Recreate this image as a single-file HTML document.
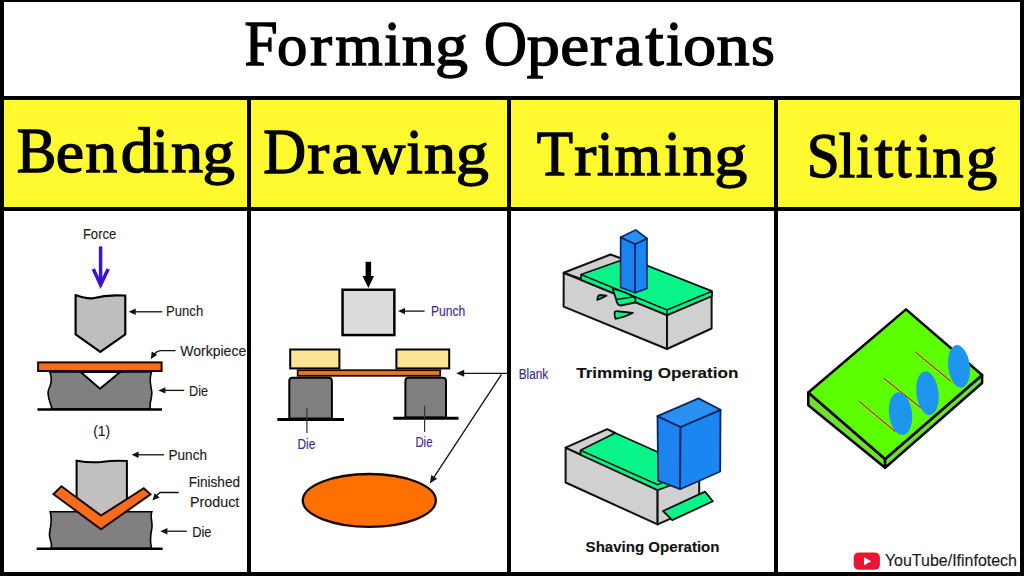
<!DOCTYPE html>
<html><head><meta charset="utf-8">
<style>
html,body{margin:0;padding:0;background:#fff;width:1024px;height:576px;overflow:hidden}
svg{display:block}
.ser{font-family:"Liberation Serif",serif}
.sans{font-family:"Liberation Sans",sans-serif}
</style></head>
<body>
<svg width="1024" height="576" viewBox="0 0 1024 576">
<rect x="0" y="0" width="1024" height="576" fill="#000"/>
<rect x="4" y="2" width="1016" height="94" fill="#fff"/>
<rect x="4" y="100" width="243" height="107" fill="#FFFA30"/>
<rect x="4" y="211" width="243" height="361" fill="#fff"/>
<rect x="251" y="100" width="256" height="107" fill="#FFFA30"/>
<rect x="251" y="211" width="256" height="361" fill="#fff"/>
<rect x="511" y="100" width="263" height="107" fill="#FFFA30"/>
<rect x="511" y="211" width="263" height="361" fill="#fff"/>
<rect x="778" y="100" width="242" height="107" fill="#FFFA30"/>
<rect x="778" y="211" width="242" height="361" fill="#fff"/>
<text class="ser" transform="translate(244.38,64.5) scale(0.950,1)" font-size="62.6" fill="#000" stroke="#000" stroke-width="1.4">F</text>
<text class="ser" transform="translate(277.08,64.5) scale(0.972,0.94)" font-size="62.6" fill="#000" stroke="#000" stroke-width="1.4">o</text>
<text class="ser" transform="translate(309.88,64.5) scale(1.060,0.94)" font-size="62.6" fill="#000" stroke="#000" stroke-width="1.4">r</text>
<text class="ser" transform="translate(335.22,64.5) scale(0.974,0.94)" font-size="62.6" fill="#000" stroke="#000" stroke-width="1.4">m</text>
<text class="ser" transform="translate(384.18,64.5) scale(0.950,1)" font-size="62.6" fill="#000" stroke="#000" stroke-width="1.4">i</text>
<text class="ser" transform="translate(401.75,64.5) scale(1.060,0.94)" font-size="62.6" fill="#000" stroke="#000" stroke-width="1.4">n</text>
<text class="ser" transform="translate(434.96,64.5) scale(1.054,0.94)" font-size="62.6" fill="#000" stroke="#000" stroke-width="1.4">g</text>
<text class="ser" transform="translate(483.98,64.5) scale(0.950,1)" font-size="62.6" fill="#000" stroke="#000" stroke-width="1.4">O</text>
<text class="ser" transform="translate(526.77,64.5) scale(1.060,0.94)" font-size="62.6" fill="#000" stroke="#000" stroke-width="1.4">p</text>
<text class="ser" transform="translate(560.16,64.5) scale(1.040,0.94)" font-size="62.6" fill="#000" stroke="#000" stroke-width="1.4">e</text>
<text class="ser" transform="translate(590.08,64.5) scale(1.060,0.94)" font-size="62.6" fill="#000" stroke="#000" stroke-width="1.4">r</text>
<text class="ser" transform="translate(614.58,64.5) scale(1.011,0.94)" font-size="62.6" fill="#000" stroke="#000" stroke-width="1.4">a</text>
<text class="ser" transform="translate(645.46,64.5) scale(1.048,1)" font-size="62.6" fill="#000" stroke="#000" stroke-width="1.4">t</text>
<text class="ser" transform="translate(665.93,64.5) scale(0.950,1)" font-size="62.6" fill="#000" stroke="#000" stroke-width="1.4">i</text>
<text class="ser" transform="translate(683.06,64.5) scale(1.060,0.94)" font-size="62.6" fill="#000" stroke="#000" stroke-width="1.4">o</text>
<text class="ser" transform="translate(716.45,64.5) scale(1.060,0.94)" font-size="62.6" fill="#000" stroke="#000" stroke-width="1.4">n</text>
<text class="ser" transform="translate(751.09,64.5) scale(0.978,0.94)" font-size="62.6" fill="#000" stroke="#000" stroke-width="1.4">s</text>
<text class="ser" transform="translate(16.79,171.5) scale(0.950,1)" font-size="62.5" fill="#000" stroke="#000" stroke-width="1.4">B</text>
<text class="ser" transform="translate(55.71,171.5) scale(1.020,0.94)" font-size="62.5" fill="#000" stroke="#000" stroke-width="1.4">e</text>
<text class="ser" transform="translate(85.33,171.5) scale(1.025,0.94)" font-size="62.5" fill="#000" stroke="#000" stroke-width="1.4">n</text>
<text class="ser" transform="translate(120.74,171.5) scale(1.060,1)" font-size="62.5" fill="#000" stroke="#000" stroke-width="1.4">d</text>
<text class="ser" transform="translate(152.29,171.5) scale(0.950,1)" font-size="62.5" fill="#000" stroke="#000" stroke-width="1.4">i</text>
<text class="ser" transform="translate(171.03,171.5) scale(1.025,0.94)" font-size="62.5" fill="#000" stroke="#000" stroke-width="1.4">n</text>
<text class="ser" transform="translate(202.51,171.5) scale(1.037,0.94)" font-size="62.5" fill="#000" stroke="#000" stroke-width="1.4">g</text>
<text class="ser" transform="translate(263.24,172.5) scale(0.950,1)" font-size="62.5" fill="#000" stroke="#000" stroke-width="1.4">D</text>
<text class="ser" transform="translate(307.25,172.5) scale(1.060,0.94)" font-size="62.5" fill="#000" stroke="#000" stroke-width="1.4">r</text>
<text class="ser" transform="translate(331.54,172.5) scale(1.060,0.94)" font-size="62.5" fill="#000" stroke="#000" stroke-width="1.4">a</text>
<text class="ser" transform="translate(362.41,172.5) scale(0.950,0.94)" font-size="62.5" fill="#000" stroke="#000" stroke-width="1.4">w</text>
<text class="ser" transform="translate(406.19,172.5) scale(0.950,1)" font-size="62.5" fill="#000" stroke="#000" stroke-width="1.4">i</text>
<text class="ser" transform="translate(424.03,172.5) scale(1.025,0.94)" font-size="62.5" fill="#000" stroke="#000" stroke-width="1.4">n</text>
<text class="ser" transform="translate(455.84,172.5) scale(1.060,0.94)" font-size="62.5" fill="#000" stroke="#000" stroke-width="1.4">g</text>
<text class="ser" transform="translate(536.72,175) scale(0.950,1)" font-size="62.5" fill="#000" stroke="#000" stroke-width="1.4">T</text>
<text class="ser" transform="translate(574.25,175) scale(1.060,0.94)" font-size="62.5" fill="#000" stroke="#000" stroke-width="1.4">r</text>
<text class="ser" transform="translate(597.04,175) scale(0.950,1)" font-size="62.5" fill="#000" stroke="#000" stroke-width="1.4">i</text>
<text class="ser" transform="translate(614.55,175) scale(0.954,0.94)" font-size="62.5" fill="#000" stroke="#000" stroke-width="1.4">m</text>
<text class="ser" transform="translate(664.19,175) scale(0.950,1)" font-size="62.5" fill="#000" stroke="#000" stroke-width="1.4">i</text>
<text class="ser" transform="translate(682.43,175) scale(1.025,0.94)" font-size="62.5" fill="#000" stroke="#000" stroke-width="1.4">n</text>
<text class="ser" transform="translate(714.14,175) scale(1.060,0.94)" font-size="62.5" fill="#000" stroke="#000" stroke-width="1.4">g</text>
<text class="ser" transform="translate(806.79,177) scale(0.950,1)" font-size="62.5" fill="#000" stroke="#000" stroke-width="1.4">S</text>
<text class="ser" transform="translate(838.65,177) scale(0.950,1)" font-size="62.5" fill="#000" stroke="#000" stroke-width="1.4">l</text>
<text class="ser" transform="translate(856.09,177) scale(0.950,1)" font-size="62.5" fill="#000" stroke="#000" stroke-width="1.4">i</text>
<text class="ser" transform="translate(874.47,177) scale(1.060,1)" font-size="62.5" fill="#000" stroke="#000" stroke-width="1.4">t</text>
<text class="ser" transform="translate(895.09,177) scale(0.950,1)" font-size="62.5" fill="#000" stroke="#000" stroke-width="1.4">t</text>
<text class="ser" transform="translate(915.14,177) scale(0.950,1)" font-size="62.5" fill="#000" stroke="#000" stroke-width="1.4">i</text>
<text class="ser" transform="translate(932.38,177) scale(0.991,0.94)" font-size="62.5" fill="#000" stroke="#000" stroke-width="1.4">n</text>
<text class="ser" transform="translate(966.11,177) scale(1.001,0.94)" font-size="62.5" fill="#000" stroke="#000" stroke-width="1.4">g</text>
<text class="sans" x="82.9" y="238.7" font-size="14.2" fill="#1a1a1a" stroke="#1a1a1a" stroke-width="0.12" textLength="33.4" lengthAdjust="spacingAndGlyphs">Force</text>
<line x1="100.6" y1="246.4" x2="100.6" y2="284" stroke="#3C12D2" stroke-width="3.5"/>
<polyline points="93.3,269 100.6,284.8 108.2,269" fill="none" stroke="#3C12D2" stroke-width="3.5" stroke-linejoin="miter"/>
<path d="M75.6,295 Q86,299 93,298.3 Q104,295.5 116,295.3 L125.3,295.5 L125.3,334.3 L100.3,351.8 L75.6,334.3 Z" fill="#BEBEBE" stroke="#000" stroke-width="2.2" stroke-linejoin="round"/>
<line x1="162.2" y1="311.8" x2="134" y2="311.8" stroke="#111" stroke-width="1.3"/>
<polygon points="128.7,311.8 135.7,308.6 135.7,315.0" fill="#111"/>
<text class="sans" x="166" y="315.9" font-size="14.2" fill="#1a1a1a" stroke="#1a1a1a" stroke-width="0.12" textLength="37.2" lengthAdjust="spacingAndGlyphs">Punch</text>
<path d="M49.8,372 C52.5,378 51.5,384 48.5,390 C46.5,396 50.5,402 52,409 L150.5,409 C148.5,404 152.5,398 151.8,392 C151,386 148.5,380 151.5,372 Z" fill="#808080" stroke="#000" stroke-width="1.6"/>
<polygon points="80.6,372 120.2,372 100,388.75" fill="#fff" stroke="#000" stroke-width="2"/>
<rect x="38.1" y="362.4" width="123.5" height="8.6" fill="#F86C1A" stroke="#1a0800" stroke-width="2"/>
<line x1="37.5" y1="409.5" x2="162" y2="409.5" stroke="#000" stroke-width="2.5"/>
<path d="M175.6,350.7 L160,350.7 Q156,351.5 153.5,355" fill="none" stroke="#111" stroke-width="1.3"/>
<polygon points="150.8,359.2 151.7,351.6 157.1,354.8" fill="#111"/>
<text class="sans" x="180.3" y="356.0" font-size="14.2" fill="#1a1a1a" stroke="#1a1a1a" stroke-width="0.12" textLength="65.9" lengthAdjust="spacingAndGlyphs">Workpiece</text>
<line x1="184.2" y1="390.4" x2="164" y2="390.4" stroke="#111" stroke-width="1.3"/>
<polygon points="158.4,390.4 165.4,387.2 165.4,393.6" fill="#111"/>
<text class="sans" x="189" y="395.6" font-size="14.2" fill="#1a1a1a" stroke="#1a1a1a" stroke-width="0.12" textLength="19" lengthAdjust="spacingAndGlyphs">Die</text>
<text class="sans" x="93.2" y="435.5" font-size="14.2" fill="#1a1a1a" stroke="#1a1a1a" stroke-width="0.12" textLength="16.9" lengthAdjust="spacingAndGlyphs">(1)</text>
<path d="M50.2,511.8 L151.8,511.8 C150,517 152.5,522 152,527 C151.5,532 149,537 151.5,548.4 L51,548.4 C53,543 48.5,538 49.5,533 C50.5,528 52.5,520 50.2,511.8 Z" fill="#808080" stroke="#000" stroke-width="1.6"/>
<line x1="36.7" y1="548.8" x2="162.6" y2="548.8" stroke="#000" stroke-width="2.5"/>
<path d="M76.6,460.8 Q90,463 101,462 Q115,460 126.9,461 L126.9,500 L101,516 L76.6,498 Z" fill="#C0C0C0" stroke="#000" stroke-width="2"/>
<polygon points="61.4,486.3 101,515.6 143.8,488.2 150.5,494.4 101,529.2 53.5,494.2" fill="#F86C1A" stroke="#1a0800" stroke-width="2" stroke-linejoin="miter"/>
<line x1="164" y1="454.8" x2="137" y2="454.8" stroke="#111" stroke-width="1.3"/>
<polygon points="131.6,454.8 138.6,451.6 138.6,458.0" fill="#111"/>
<text class="sans" x="168.5" y="459.7" font-size="14.2" fill="#1a1a1a" stroke="#1a1a1a" stroke-width="0.12" textLength="38.5" lengthAdjust="spacingAndGlyphs">Punch</text>
<text class="sans" x="188.7" y="487.1" font-size="14.2" fill="#1a1a1a" stroke="#1a1a1a" stroke-width="0.12" textLength="51.3" lengthAdjust="spacingAndGlyphs">Finished</text>
<text class="sans" x="190" y="506.8" font-size="14.2" fill="#1a1a1a" stroke="#1a1a1a" stroke-width="0.12" textLength="49.3" lengthAdjust="spacingAndGlyphs">Product</text>
<polyline points="178.7,492.5 160,492.5 156,496" fill="none" stroke="#111" stroke-width="1.3"/>
<polygon points="152.4,500.5 154.7,493.2 159.5,497.4" fill="#111"/>
<line x1="186.8" y1="531.2" x2="166" y2="531.2" stroke="#111" stroke-width="1.3"/>
<polygon points="160.4,531.2 167.4,528.0 167.4,534.4" fill="#111"/>
<text class="sans" x="192.2" y="536.9" font-size="14.2" fill="#1a1a1a" stroke="#1a1a1a" stroke-width="0.12" textLength="19.3" lengthAdjust="spacingAndGlyphs">Die</text>
<rect x="365.6" y="261.8" width="5.5" height="15" fill="#000"/>
<polygon points="362.5,276 374,276 368.4,288" fill="#000"/>
<rect x="342.55" y="289.75" width="51.8" height="45.3" fill="#DCDCDC" stroke="#000" stroke-width="2.5"/>
<line x1="424.6" y1="311.1" x2="404" y2="311.1" stroke="#111" stroke-width="1.3"/>
<polygon points="398.0,311.1 405.0,307.9 405.0,314.3" fill="#111"/>
<text class="sans" x="431" y="316.3" font-size="14.0" fill="#42288A" stroke="#42288A" stroke-width="0.12" textLength="34.3" lengthAdjust="spacingAndGlyphs">Punch</text>
<rect x="290.2" y="349.5" width="49.2" height="18.9" fill="#FCE592" stroke="#000" stroke-width="2"/>
<rect x="396.4" y="349.5" width="52.8" height="18.9" fill="#FCE592" stroke="#000" stroke-width="2"/>
<rect x="297.7" y="370.2" width="142.5" height="5.6" fill="#E07A30" stroke="#2A0A00" stroke-width="1.8"/>
<path d="M289.3,418.5 L289.3,381 Q289.3,377.7 292.6,377.7 L328.6,377.7 Q331.9,377.7 331.9,381 L331.9,418.5 Z" fill="#7F7F7F" stroke="#000" stroke-width="2"/>
<path d="M405.4,417.5 L405.4,381 Q405.4,377.7 408.7,377.7 L442.7,377.7 Q446,377.7 446,381 L446,417.5 Z" fill="#7F7F7F" stroke="#000" stroke-width="2"/>
<line x1="277.3" y1="419.4" x2="344" y2="419.4" stroke="#000" stroke-width="3"/>
<line x1="393.3" y1="418.2" x2="458.5" y2="418.2" stroke="#000" stroke-width="3"/>
<line x1="306.9" y1="408" x2="306.9" y2="432.9" stroke="#333" stroke-width="1.2"/>
<line x1="424.6" y1="405.8" x2="424.6" y2="431.9" stroke="#333" stroke-width="1.2"/>
<text class="sans" x="297.5" y="448.8" font-size="14.0" fill="#42288A" stroke="#42288A" stroke-width="0.12" textLength="17.9" lengthAdjust="spacingAndGlyphs">Die</text>
<text class="sans" x="415.4" y="446.8" font-size="14.0" fill="#42288A" stroke="#42288A" stroke-width="0.12" textLength="17.1" lengthAdjust="spacingAndGlyphs">Die</text>
<line x1="507" y1="373.3" x2="462" y2="373.3" stroke="#111" stroke-width="1.3"/>
<polygon points="456.2,373.3 464.2,369.8 464.2,376.8" fill="#111"/>
<line x1="501.5" y1="374.4" x2="433.5" y2="477.8" stroke="#111" stroke-width="1.3"/>
<polygon points="429.8,483.6 431.3,475.0 437.1,478.8" fill="#111"/>
<text class="sans" x="518.75" y="378.5" font-size="14.0" fill="#42288A" stroke="#42288A" stroke-width="0.12" textLength="29.5" lengthAdjust="spacingAndGlyphs">Blank</text>
<ellipse cx="369.3" cy="500.4" rx="66.5" ry="26.4" fill="#FF7000" stroke="#140800" stroke-width="2.3"/>
<polygon points="563.7,272.7 667,315 667,349 563.6,306.6" fill="#D0D0D0" stroke="#111" stroke-width="2" stroke-linejoin="round"/>
<polygon points="667,315 711.6,296 711.6,328.5 667,349" fill="#D0D0D0" stroke="#111" stroke-width="2" stroke-linejoin="round"/>
<polygon points="563.7,272.7 610.5,254.5 627.8,260.7 581,279" fill="#D0D0D0" stroke="#111" stroke-width="2" stroke-linejoin="round"/>
<polygon points="581,274.5 627.8,258 712,291.2 712,296 667,315.2 581,279.8" fill="#08F488" stroke="#111" stroke-width="1.8" stroke-linejoin="round"/>
<polyline points="581,274.5 667,309.9 712,291.2" fill="none" stroke="#111" stroke-width="1.5"/>
<line x1="667" y1="309.9" x2="667" y2="315.2" stroke="#111" stroke-width="1.5"/>
<path d="M597.3,300 Q597.5,295.5 600,295 L606.5,295.6 Q602,298 597.3,300 Z" fill="#08F488" stroke="#111" stroke-width="1.8" stroke-linejoin="round"/>
<path d="M612.6,288.5 L616,299 Q617,305.5 621,305.5 L635,302.5 Q636.5,298.5 633.5,296.5 L625,292.5 Z" fill="#08F488" stroke="#111" stroke-width="1.8" stroke-linejoin="round"/>
<polyline points="616.5,299.5 634,296.8" fill="none" stroke="#111" stroke-width="1.4"/>
<path d="M615.5,318.8 Q614,314 615,311.5 Q617,310.8 620,311.5 L633,312.8 Q628,315.5 623.5,316.8 Z" fill="#08F488" stroke="#111" stroke-width="1.8" stroke-linejoin="round"/>
<polygon points="620.6,237.2 635.2,244.1 635.2,292.7 620.6,287.5" fill="#1C84EE" stroke="#0A2466" stroke-width="1.6" stroke-linejoin="round"/>
<polygon points="635.2,244.1 647,238.5 647,288.4 635.2,292.7" fill="#1A86F0" stroke="#0A2466" stroke-width="1.6" stroke-linejoin="round"/>
<polygon points="620.6,237.2 635.7,229.9 647,238.5 635.2,244.1" fill="#2A90F0" stroke="#0A2466" stroke-width="1.6" stroke-linejoin="round"/>
<text class="sans" x="576.2" y="378.2" font-size="14.7" fill="#111" stroke="#111" stroke-width="0.12" font-weight="bold" textLength="162.2" lengthAdjust="spacingAndGlyphs">Trimming Operation</text>
<polygon points="565.6,447.7 657.6,490 657.6,524.4 565.6,482.5" fill="#D0D0D0" stroke="#111" stroke-width="2" stroke-linejoin="round"/>
<polygon points="657.6,490 699.2,471.5 699.2,505.9 657.6,524.4" fill="#D0D0D0" stroke="#111" stroke-width="2" stroke-linejoin="round"/>
<polygon points="565.6,447.7 607.2,429.2 615.2,433 580.5,454.5" fill="#D0D0D0" stroke="#111" stroke-width="2" stroke-linejoin="round"/>
<polygon points="580.5,450.3 615.2,433 700,471 700,475 657.6,490 580.5,454.8" fill="#08F488" stroke="#111" stroke-width="1.8" stroke-linejoin="round"/>
<polyline points="580.5,450.3 657.6,484.8 700,466" fill="none" stroke="#111" stroke-width="1.5"/>
<polygon points="663.1,511 705,491.6 712.9,501.3 672.2,520.1" fill="#08F488" stroke="#111" stroke-width="1.8" stroke-linejoin="round"/>
<polygon points="657.5,416.1 680.6,427 680.1,489.2 658.2,480.6" fill="#1C84EE" stroke="#0A2466" stroke-width="1.8" stroke-linejoin="round"/>
<polygon points="680.6,427 720.5,409.8 720.2,471.5 680.1,489.2" fill="#1A86F0" stroke="#0A2466" stroke-width="1.8" stroke-linejoin="round"/>
<polygon points="657.5,416.1 698.6,398.4 720.5,409.8 680.6,427" fill="#2A90F0" stroke="#0A2466" stroke-width="1.8" stroke-linejoin="round"/>
<text class="sans" x="585.6" y="552.2" font-size="14.7" fill="#111" stroke="#111" stroke-width="0.12" font-weight="bold" textLength="133.9" lengthAdjust="spacingAndGlyphs">Shaving Operation</text>
<polygon points="808.3,392.5 885.1,459 885.1,467.7 808.3,405.2" fill="#70E030" stroke="#000" stroke-width="2.5" stroke-linejoin="round"/>
<polygon points="885.1,459 982.1,375 982.1,383 885.1,467.7" fill="#70E030" stroke="#000" stroke-width="2.5" stroke-linejoin="round"/>
<polygon points="808.3,392.5 906,309.4 982.1,375 885.1,459" fill="#5CFF00" stroke="#000" stroke-width="2.5" stroke-linejoin="round"/>
<line x1="859.2" y1="401.4" x2="895.5" y2="431.8" stroke="#C8C820" stroke-width="2.6"/>
<line x1="859.2" y1="401.4" x2="895.5" y2="431.8" stroke="#4A3A00" stroke-width="1"/>
<line x1="884" y1="378.4" x2="921.9" y2="408.7" stroke="#C8C820" stroke-width="2.6"/>
<line x1="884" y1="378.4" x2="921.9" y2="408.7" stroke="#4A3A00" stroke-width="1"/>
<line x1="915.4" y1="352.1" x2="950.8" y2="381.25" stroke="#C8C820" stroke-width="2.6"/>
<line x1="915.4" y1="352.1" x2="950.8" y2="381.25" stroke="#4A3A00" stroke-width="1"/>
<ellipse cx="900.5" cy="413.6" rx="11.5" ry="21.5" transform="rotate(-7 900.5 413.6)" fill="#1E96F0"/>
<ellipse cx="927.5" cy="393.2" rx="11" ry="22" transform="rotate(-7 927.5 393.2)" fill="#1E96F0"/>
<ellipse cx="959" cy="366.4" rx="10.8" ry="21.5" transform="rotate(-7 959 366.4)" fill="#1E96F0"/>
<rect x="853.7" y="552.4" width="26.2" height="17.4" rx="5" fill="#EA1530"/>
<polygon points="864,557.3 864,565.2 871.2,561.2" fill="#fff"/>
<text class="sans" x="884.9" y="566.1" font-size="15.8" fill="#1a1a1a" stroke="#1a1a1a" stroke-width="0.12" textLength="132.1" lengthAdjust="spacingAndGlyphs">YouTube/Ifinfotech</text>
</svg>
</body></html>
